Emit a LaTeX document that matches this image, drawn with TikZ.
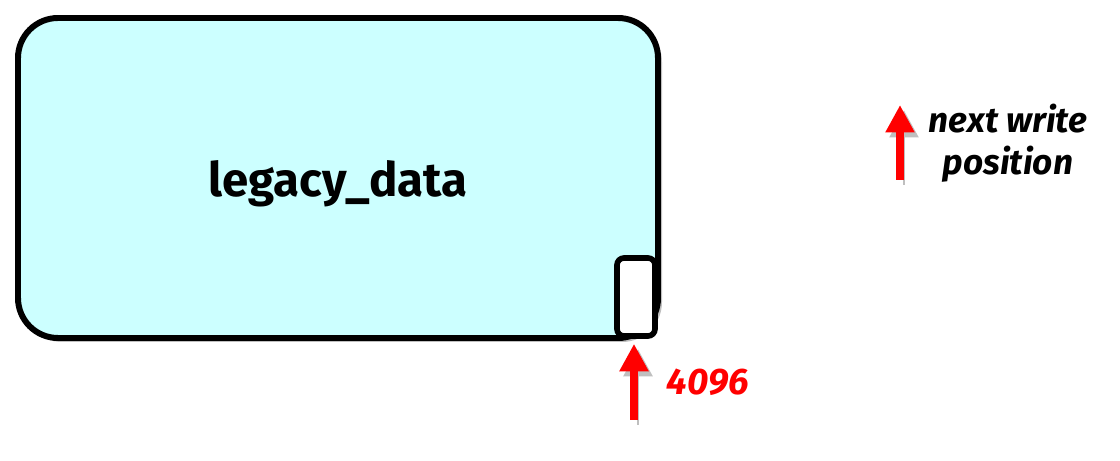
\documentclass[tikz,border=0pt]{standalone}
\usepackage{fontspec}
\setmainfont{Fira Sans}
\usetikzlibrary{arrows.meta}
\usetikzlibrary{shadows}
\usetikzlibrary{positioning}
\definecolor{legacyCyan}{HTML}{CCFFFF}
\definecolor{pointerRed}{HTML}{FF0000}

\begin{document}
\begin{tikzpicture}
[thick,%
  boxDecorate/.style={draw,line width=3.4pt,rounded corners=0.8cm,fill=legacyCyan,%
    drop shadow={shadow xshift=0.08cm,shadow yshift=-0.08cm,fill=black!25,opacity=1}},%
  slotDecorate/.style={draw,line width=3.2pt,rounded corners=0.14cm,fill=white,inner sep=0pt},%
  arrowDecorate/.style={-{Triangle[length=0.55cm,width=0.55cm]},line width=4.6pt,pointerRed,%
    preaction={draw=black!25,transform canvas={shift={(0.08,-0.1)}}}},%
  nameText/.style={font=\fontsize{27}{32}\selectfont\bfseries},%
  noteText/.style={font=\fontsize{20}{24}\selectfont\bfseries\itshape,align=center}]
\useasboundingbox (0,0) rectangle (22.4,-9.22);
%% storage box and the used slot
\node[boxDecorate,minimum width=12.8cm,minimum height=6.4cm] (legacy) at (6.76,-3.56) {};
\node[nameText] (legacyName) at (6.76,-3.68) {legacy\_data};
\node[slotDecorate,minimum width=0.76cm,minimum height=1.56cm] (slot) at (12.72,-5.94) {};
%% pointer at offset 4096
\coordinate (lowTail) at (12.68,-8.4);
\draw[arrowDecorate] (lowTail) -- ([yshift=-0.1cm]lowTail |- slot.south);
\node[noteText,pointerRed,font=\fontsize{21}{25}\selectfont\bfseries\itshape] (offsetText) at (14.16,-7.64) {4096};
%% legend
\coordinate (legendTail) at (18.0,-3.6);
\coordinate (legendTip) at (18.0,-2.1);
\draw[arrowDecorate] (legendTail) -- (legendTip);
\node[noteText] (legendText) at (20.16,-2.86) {next write\\position};
\end{tikzpicture}
\end{document}
